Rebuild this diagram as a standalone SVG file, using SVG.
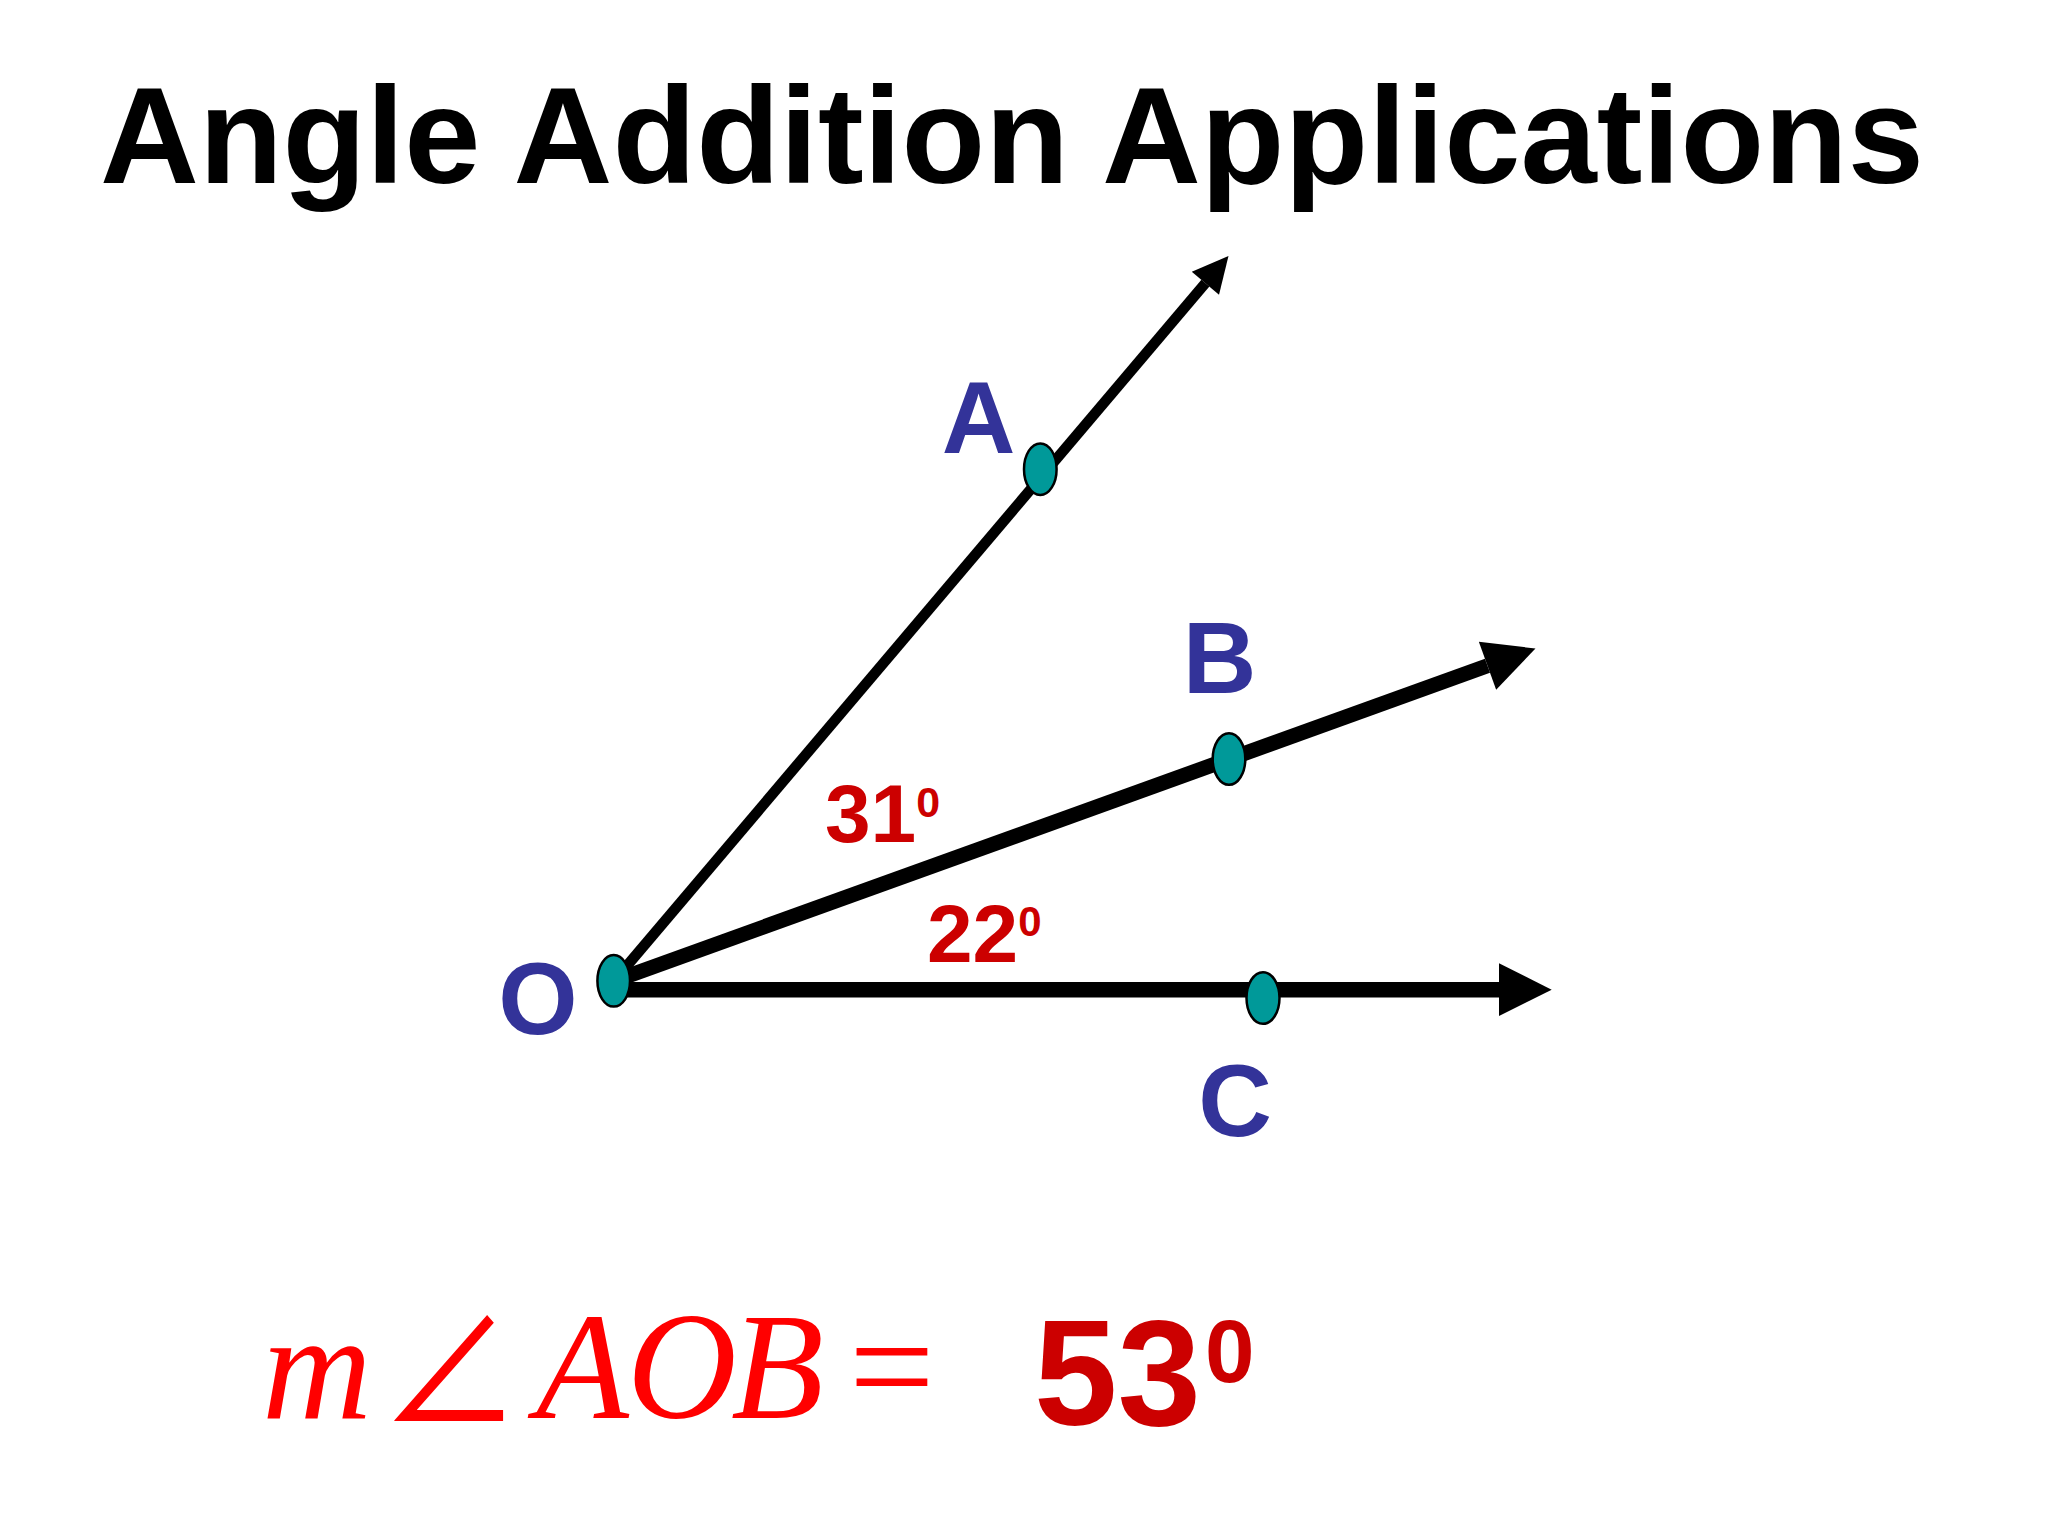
<svg xmlns="http://www.w3.org/2000/svg" width="2048" height="1536" viewBox="0 0 2048 1536">
<style>
.title{font-family:"Liberation Sans",Arial,sans-serif;font-weight:bold;font-size:137px;fill:#000}
.pt{font-family:"Liberation Sans",Arial,sans-serif;font-weight:bold;font-size:102px;fill:#333399;text-anchor:middle}
.deg{font-family:"Liberation Sans",Arial,sans-serif;font-weight:bold;font-size:82px;fill:#CC0000}
.ray{stroke:#000;fill:none;stroke-linecap:butt;marker-end:url(#ah)}
.dot{fill:#009999;stroke:#000;stroke-width:2.5}
.math{font-family:"Liberation Serif","Times New Roman",serif;font-style:italic;font-size:152px;fill:#FF0000}
.res{font-family:"Liberation Sans",Arial,sans-serif;font-weight:bold;fill:#CC0000}
</style>
<defs>
<marker id="ah" viewBox="0 0 3.4 3.4" refX="0" refY="1.7" markerWidth="3.4" markerHeight="3.4" markerUnits="strokeWidth" orient="auto" overflow="visible">
<path d="M0,0 L3.4,1.7 L0,3.4 Z" fill="#000"/>
</marker>
</defs>
<rect width="2048" height="1536" fill="#fff"/>
<text class="title" x="1012" y="183" text-anchor="middle">Angle Addition Applications</text>
<g id="connectors">
<line id="ray-OA" class="ray" x1="614" y1="981" x2="1205.4" y2="283.2" stroke-width="10.5"/>
<line id="ray-OB" class="ray" x1="614" y1="981" x2="1487.5" y2="665.8" stroke-width="15"/>
<line id="ray-OC" class="ray" x1="614" y1="989.7" x2="1499" y2="989.7" stroke-width="15.5"/>
</g>
<g id="node-O"><ellipse class="dot" cx="613.7" cy="980.8" rx="16.3" ry="25.8"/><text class="pt" x="538" y="1034" font-size="104">O</text></g>
<g id="node-A"><ellipse class="dot" cx="1040.3" cy="469.2" rx="16.3" ry="25.8"/><text class="pt" x="978.7" y="453">A</text></g>
<g id="node-B"><ellipse class="dot" cx="1229" cy="759" rx="16.3" ry="25.8"/><text class="pt" x="1219.6" y="693">B</text></g>
<g id="node-C"><ellipse class="dot" cx="1263" cy="998" rx="16.5" ry="25.8"/><text class="pt" x="1235" y="1136">C</text></g>
<g id="angle-AOB"><text class="deg" x="825" y="842">31<tspan font-size="43" dy="-25">0</tspan></text></g>
<g id="angle-BOC"><text class="deg" x="927" y="962">22<tspan font-size="42" dy="-26">0</tspan></text></g>
<g id="formula">
<text class="math" x="262" y="1418">m</text>
<text transform="translate(380,1425) scale(1,1.13)" x="0" y="0" font-family="Noto Sans CJK JP,sans-serif" font-size="140" fill="#FF0000">∠</text>
<text class="math" x="536" y="1418">A</text>
<text class="math" x="627" y="1418">O</text>
<text class="math" x="731" y="1418">B</text>
<text x="849" y="1418" font-family="Liberation Serif,serif" font-size="152" fill="#FF0000">=</text>
<text class="res" x="1034" y="1425" font-size="150">53</text>
<text class="res" x="1205" y="1382" font-size="89">0</text>
</g>
</svg>
